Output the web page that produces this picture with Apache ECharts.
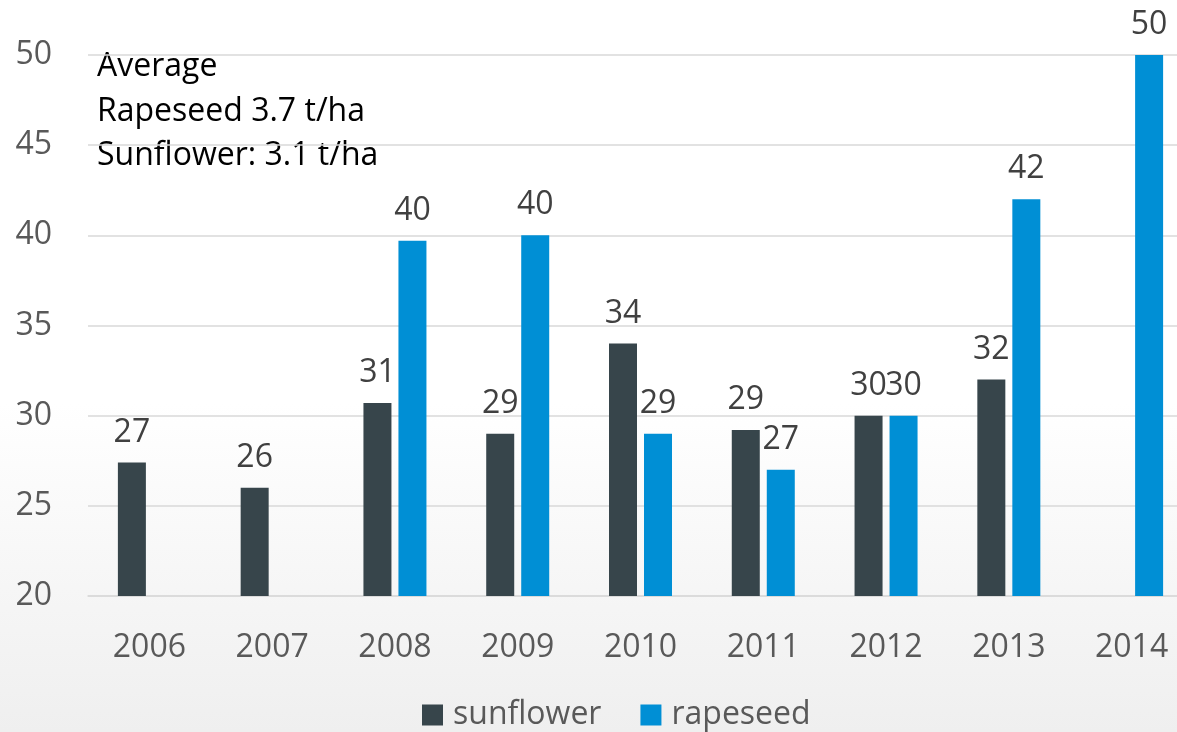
<!DOCTYPE html>
<html>
<head>
<meta charset="utf-8">
<script src="https://cdn.jsdelivr.net/npm/echarts@6/dist/echarts.min.js"></script>
<style>
  html, body { margin: 0; padding: 0; }
  body { background: linear-gradient(to bottom, #ffffff 0%, #ffffff 55%, #efefef 100%); }
  #main { width: 1177px; height: 732px; }
</style>
</head>
<body>
<div id="main"></div>
<script>
// yields per year
var years = ['2006', '2007', '2008', '2009', '2010', '2011', '2012', '2013', '2014'];
var sunflower = [27.4, 26.0, 30.7, 29.0, 34.0, 29.2, 30.0, 32.0, null];
var rapeseed = [null, null, 39.7, 40.0, 29.0, 27.0, 30.0, 42.0, 50.0];
var noteLines = ['Average', 'Rapeseed 3.7 t/ha', 'Sunflower: 3.1 t/ha'];

var font = '"Open Sans", "Noto Sans", sans-serif';
var chart = echarts.init(document.getElementById('main'));

function barLabel() {
  return {
    show: true,
    position: 'top',
    distance: 14,
    color: '#404040',
    fontSize: 32,
    fontFamily: font,
    formatter: function (p) { return Math.round(p.value); }
  };
}

var option = {
  backgroundColor: 'transparent',
  animation: false,
  textStyle: { fontFamily: font },
  grid: { left: 88, right: -16, top: 55, bottom: 136, containLabel: false, outerBoundsMode: 'none' },
  legend: {
    left: 422,
    bottom: 1,
    padding: 0,
    itemWidth: 21,
    itemHeight: 21,
    itemGap: 39,
    icon: 'rect',
    textStyle: { fontSize: 32, color: '#595959', fontFamily: font, padding: [0, 0, 0, 5] },
    data: ['sunflower', 'rapeseed']
  },
  xAxis: {
    type: 'category',
    data: years,
    axisLine: { show: true, lineStyle: { color: '#d9d9d9', width: 1.5 } },
    axisTick: { show: false },
    axisLabel: { color: '#595959', fontSize: 32, fontFamily: font, margin: 36 }
  },
  yAxis: {
    type: 'value',
    min: 20,
    max: 50,
    interval: 5,
    axisLine: { show: false },
    axisTick: { show: false },
    axisLabel: { color: '#595959', fontSize: 32, fontFamily: font, margin: 36 },
    splitLine: { lineStyle: { color: '#d9d9d9', width: 1.5 } }
  },
  graphic: noteLines.map(function (t, i) {
    return {
      type: 'text',
      left: 97,
      top: 51 + i * 44.5,
      style: { text: t, fill: '#000', fontSize: 32, fontFamily: font }
    };
  }),
  series: [
    {
      name: 'sunflower',
      type: 'bar',
      barWidth: 28,
      barGap: '25%',
      itemStyle: { color: '#37454b' },
      label: barLabel(),
      data: sunflower
    },
    {
      name: 'rapeseed',
      type: 'bar',
      barWidth: 28,
      itemStyle: { color: '#008fd5' },
      label: barLabel(),
      data: rapeseed
    }
  ]
};

chart.setOption(option);
</script>
</body>
</html>
